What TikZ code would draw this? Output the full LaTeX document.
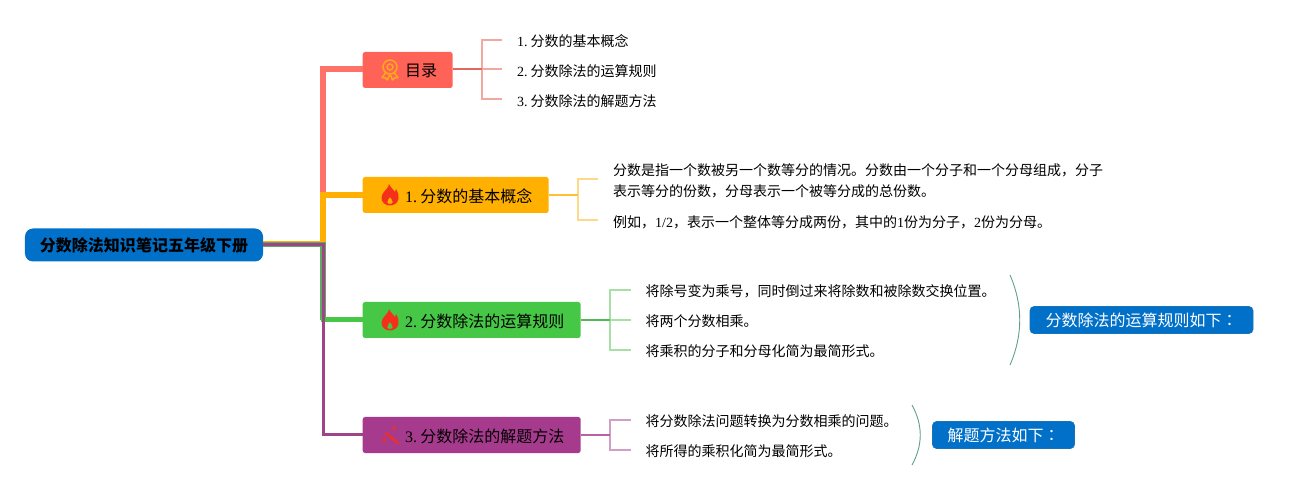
\documentclass[tikz,border=0pt]{standalone}
\usepackage{fontspec}
\setmainfont{Noto Sans CJK SC}
\newfontfamily\lat{Liberation Serif}
\newfontfamily\tcfont{Noto Sans CJK TC}
\newcommand{\La}[1]{{\lat #1}}
\newcommand{\Nb}[1]{{\lat #1.}\kern.2em}
\definecolor{cred}{HTML}{FF6257}
\definecolor{cyel}{HTML}{FFB000}
\definecolor{cgrn}{HTML}{46C846}
\definecolor{cpur}{HTML}{A63A8C}
\definecolor{cblue}{HTML}{0070C8}
\definecolor{cflame}{HTML}{F5301A}
\definecolor{cmedal}{HTML}{FFA81E}
\definecolor{carc}{HTML}{5F9F90}
\definecolor{twred}{HTML}{F2A79F}
\definecolor{twyel}{HTML}{FFD98A}
\definecolor{twgrn}{HTML}{A6E0A6}
\definecolor{twpur}{HTML}{CFA0C4}
\tikzset{
  x=1bp,y=-1bp,
  rootbox/.style={fill=cblue,rounded corners=8bp,anchor=center,minimum width=238bp,minimum height=33bp,inner sep=0pt,font=\fontsize{16bp}{18bp}\selectfont\bfseries},
  branchbox/.style={rounded corners=2.5bp,anchor=west,minimum height=36bp,inner sep=0pt},
  branchtext/.style={anchor=west,inner sep=0pt,font=\fontsize{16bp}{18bp}\selectfont},
  notebox/.style={fill=cblue,draw=cblue!80!gray,line width=.6bp,rounded corners=4bp,minimum height=27bp,inner sep=0pt,text=white,font=\fontsize{16bp}{18bp}\selectfont},
  leaf/.style={anchor=west,inner xsep=15bp,inner ysep=0pt,align=left,font=\fontsize{14bp}{22bp}\selectfont},
  stem/.style={line width=1.8bp},
  twig/.style={line width=1.6bp},
  arcline/.style={draw=carc,line width=.9bp},
}
\begin{document}
\begin{tikzpicture}
\useasboundingbox (0,0) rectangle (1298,490);
% nodes
\node[rootbox] (root) at (144,245) {分数除法知识笔记五年级下册};
\node[branchbox,fill=cred,minimum width=90bp] (b0) at (362.5,70) {};
\node[branchbox,fill=cyel,minimum width=186bp] (b1) at (362.5,195) {};
\node[branchbox,fill=cgrn,minimum width=218bp] (b2) at (362.5,320) {};
\node[branchbox,fill=cpur,minimum width=218bp] (b3) at (362.5,435) {};
\node[branchtext] (t0) at (405,71) {目录};
\node[branchtext] (t1) at (405,196) {\Nb{1}分数的基本概念};
\node[branchtext] (t2) at (405,321) {\Nb{2}分数除法的运算规则};
\node[branchtext] (t3) at (405,436) {\Nb{3}分数除法的解题方法};
% main connectors
\coordinate (rs) at (263,244.5);
\draw[cred!90!white,line width=6bp,line join=miter] (rs) -| (323,69) -- (b0.west |- 0,69);
\draw[cyel,line width=6bp] (rs) -| (323,195) -- (b1.west);
\draw[cgrn!55!gray,line width=5.5bp] (rs) -| (323,320);
\draw[cgrn,line width=5bp] (320.5,320) -- (b2.west);
\draw[cpur!85!gray,line width=3bp] (rs) -| (323,435) -- (b3.west);
% leaves
\node[leaf] (l00) at (502,41) {\Nb{1}分数的基本概念};
\node[leaf] (l01) at (502,71) {\Nb{2}分数除法的运算规则};
\node[leaf] (l02) at (502,101) {\Nb{3}分数除法的解题方法};
\node[leaf] (l10) at (598,181) {分数是指一个数被另一个数等分的情况。分数由一个分子和一个分母组成，分子\\[-1.5bp]表示等分的份数，分母表示一个被等分成的总份数。};
\node[leaf] (l11) at (598,222) {例如，\La{1/2}，表示一个整体等分成两份，其中的\La{1}份为分子，\La{2}份为分母。};
\node[leaf] (l20) at (630.5,291) {将除号变为乘号，同时倒过来将除数和被除数交换位置。};
\node[leaf] (l21) at (630.5,321) {将两个分数相乘。};
\node[leaf] (l22) at (630.5,351) {将乘积的分子和分母化简为最简形式。};
\node[leaf] (l30) at (630.5,421) {将分数除法问题转换为分数相乘的问题。};
\node[leaf] (l31) at (630.5,451) {将所得的乘积化简为最简形式。};
% twigs
\coordinate (e0) at (482,69);
\coordinate (e1) at (578,195);
\coordinate (e2) at (610,320);
\coordinate (e3) at (610,435);
\draw[twred,twig] (l00.west |- 0,40) -| (e0 |- 0,99) -- (l02.west |- 0,99);
\draw[twred,twig] (e0) -- (l01.west |- e0);
\draw[cred!75!gray,stem] (b0.east |- e0) -- (e0);
\draw[twyel,twig] (l10.west |- 0,179) -| (e1 |- 0,220) -- (l11.west |- 0,220);
\draw[cyel!80!white,stem] (b1.east) -- (e1);
\draw[twgrn,twig] (l20.west |- 0,290) -| (e2 |- 0,350) -- (l22.west |- 0,350);
\draw[twgrn,twig] (e2) -- (l21.west |- e2);
\draw[cgrn!80!gray,stem] (b2.east) -- (e2);
\draw[twpur,twig] (l30.west |- 0,420) -| (e3 |- 0,450) -- (l31.west |- 0,450);
\draw[cpur!80!white,stem] (b3.east) -- (e3);
% notes
\node[notebox,minimum width=223bp] (n1) at (1141.5,320) {分数除法的运算规则如下{\tcfont ：}};
\node[notebox,minimum width=142bp] (n2) at (1003.5,435) {解题方法如下{\tcfont ：}};
\coordinate (a1s) at (1010,275);
\coordinate (a1e) at (1010,365);
\coordinate (a2s) at (912,405);
\coordinate (a2e) at (912,465);
\draw[arcline] (a1s) .. controls (1023,305) and (1023,335) .. (a1e);
\draw[arcline] (a2s) .. controls (923,425) and (923,445) .. (a2e);
% icons
\begin{scope}[shift={(390,70)}]
  \draw[cmedal,line width=1.6bp] (0,-3) circle (7bp);
  \draw[cmedal,line width=1.4bp] (0,-3) circle (3bp);
  \draw[cmedal,line width=1.5bp,line join=round] (-4.5,3) -- (-8,7.5) -- (-4.5,8) -- (-2.5,10) -- (-.5,5);
  \draw[cmedal,line width=1.5bp,line join=round] (4.5,3) -- (8,7.5) -- (4.5,8) -- (2.5,10) -- (.5,5);
\end{scope}
\foreach \yy in {195,320}{
\begin{scope}[shift={(390,\yy)}]
  \fill[cflame,even odd rule] (-1,-11) .. controls (1,-7) and (3,-6) .. (5,-3) .. controls (5.5,-4) and (6,-5) .. (6,-6) .. controls (8.5,-2) and (9,1) .. (8.5,4) .. controls (7.5,8) and (4,10.5) .. (0,10.5) .. controls (-5,10.5) and (-8.5,7) .. (-8.5,3) .. controls (-8.5,-1) and (-5,-4) .. (-3.5,-6) .. controls (-2,-8) and (-1,-9) .. (-1,-11) -- cycle
  (0,2) .. controls (-1,4) and (-3,5) .. (-2.8,7.5) .. controls (-2.5,8.7) and (-1.2,9) .. (0,9) .. controls (1.5,9) and (2.8,8.5) .. (2.8,7) .. controls (2.8,5) and (1,4) .. (0,2) -- cycle;
\end{scope}}
\begin{scope}[shift={(390,435)}]
  \draw[cflame!85!cpur,line width=2.6bp,line cap=round] (-4,-2) -- (8,8);
  \fill[cflame!85!cpur] (-6,2.5) -- (-3.5,5) -- (-6,7.5) -- (-8.5,5) -- cycle;
  \fill[cflame!70!cpur] (4,-9.5) -- (6.5,-7) -- (4,-4.5) -- (1.5,-7) -- cycle;
  \fill[cflame!60!cpur] (-1.5,1.5) circle (.9bp);
\end{scope}
\end{tikzpicture}
\end{document}
